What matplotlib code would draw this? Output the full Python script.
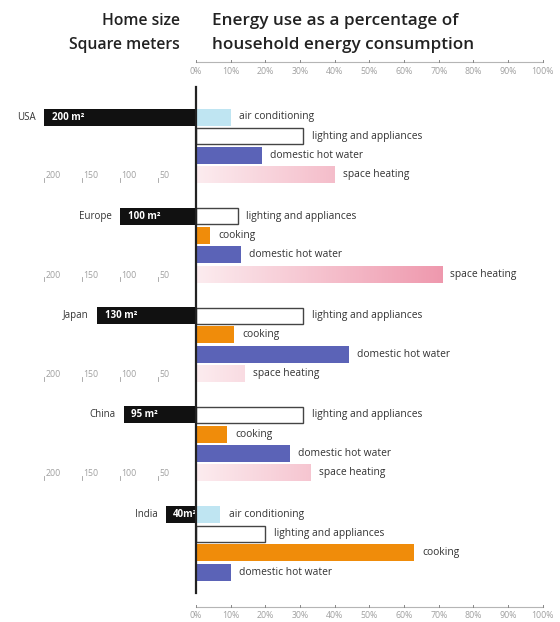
import numpy as np
import matplotlib
matplotlib.use("Agg")
import matplotlib.pyplot as plt
from matplotlib.colors import LinearSegmentedColormap, Normalize

plt.rcParams['font.family'] = ['Open Sans', 'DejaVu Sans']

# ---- data -------------------------------------------------------------
countries = ["USA", "Europe", "Japan", "China", "India"]
home_size_m2 = [200, 100, 130, 95, 40]
home_size_labels = ["200 m²", "100 m²", "130 m²", "95 m²", "40m²"]

usa_uses = ["air conditioning", "lighting and appliances", "domestic hot water", "space heating"]
usa_share = [10, 31, 19, 40]
europe_uses = ["lighting and appliances", "cooking", "domestic hot water", "space heating"]
europe_share = [12, 4, 13, 71]
japan_uses = ["lighting and appliances", "cooking", "domestic hot water", "space heating"]
japan_share = [31, 11, 44, 14]
china_uses = ["lighting and appliances", "cooking", "domestic hot water", "space heating"]
china_share = [31, 9, 27, 33]
india_uses = ["air conditioning", "lighting and appliances", "cooking", "domestic hot water"]
india_share = [7, 20, 63, 10]

pct_ticks = list(range(0, 101, 10))
size_ticks = [200, 150, 100, 50]

groups = [
    (usa_uses, usa_share),
    (europe_uses, europe_share),
    (japan_uses, japan_share),
    (china_uses, china_share),
    (india_uses, india_share),
]

# ---- styling / layout -------------------------------------------------
W, H = 560, 622
PX_PER_PCT = 3.467          # horizontal pixels per percentage point
ZERO_X = 196                # pixel column of the 0 % line
M2_TO_PCT = 0.76 / PX_PER_PCT  # home-size scale, expressed in % units

ROW0, ROW_STEP, GROUP_STEP, BAR_H = 117, 19.3, 99.3, 17

colors = {
    "air conditioning": "#bfe5f2",
    "lighting and appliances": "white",
    "cooking": "#f08c0a",
    "domestic hot water": "#5b63b7",
}
heat_cmap = LinearSegmentedColormap.from_list("heat", ["#fcecef", "#ee94aa"])
heat_norm = Normalize(0, 75)

fig = plt.figure(figsize=(W / 100, H / 100), dpi=100)
ax = fig.add_axes([0, 0, 1, 1])
ax.axis("off")

txt_col = "#333333"
grey = "#a0a0a0"

for g, ((uses, share), name, size, size_lab) in enumerate(
        zip(groups, countries, home_size_m2, home_size_labels)):
    base = ROW0 + g * GROUP_STEP
    ys = [base + i * ROW_STEP for i in range(len(uses))]

    # home size bar to the left of the zero line
    left = -size * M2_TO_PCT
    ax.barh(ys[0], left, height=BAR_H, color="#111111", edgecolor="none", zorder=2)
    ax.text(left + 2.2, ys[0], size_lab, color="white", fontsize=7,
            fontweight="bold", va="center", ha="left", zorder=3)
    ax.text(left - 2.4, ys[0], name, color=txt_col, fontsize=7,
            va="center", ha="right")

    for y, use, v in zip(ys, uses, share):
        if use == "space heating":
            grad = np.linspace(0, v, 256).reshape(1, -1)
            ax.imshow(grad, cmap=heat_cmap, norm=heat_norm, aspect="auto",
                      extent=[0, v, y + BAR_H / 2, y - BAR_H / 2],
                      interpolation="bilinear", zorder=2)
        elif use == "lighting and appliances":
            ax.barh(y, v, height=BAR_H - 1, color="white", edgecolor="#444444",
                    linewidth=1.0, zorder=2)
        else:
            ax.barh(y, v, height=BAR_H, color=colors[use], edgecolor="none", zorder=2)
        ax.text(v + 2.4, y, use, color=txt_col, fontsize=7.4, va="center", ha="left")

    # home-size scale under the first four groups
    if g < 4:
        yl = ys[-1] + 1
        for s in size_ticks:
            xs = -s * M2_TO_PCT
            ax.plot([xs, xs], [yl + 2, yl + 6], color=grey, lw=0.6)
            ax.text(xs + 0.4, yl, str(s), color=grey, fontsize=6.3,
                    va="center", ha="left")

# zero line
ax.plot([0, 0], [87, 593], color="#222222", lw=1.6, zorder=4)

# percentage scales, top and bottom
for y_axis, y_lab in [(62, 71), (607, 616)]:
    ax.plot([0, 100], [y_axis, y_axis], color="#b5b5b5", lw=0.8)
    for t in pct_ticks:
        ax.plot([t, t], [y_axis - 2, y_axis], color="#888888", lw=0.7)
        ax.text(t, y_lab, f"{t}%", color=grey, fontsize=6.3, ha="center", va="center")

ax.set_xlim(-ZERO_X / PX_PER_PCT, (W - ZERO_X) / PX_PER_PCT)
ax.set_ylim(H, 0)

# headings
head = dict(fontweight="semibold", color="#222222", va="center")
fig.text(180 / W, 1 - 21 / H, "Home size", ha="right", fontsize=11.3, **head)
fig.text(180 / W, 1 - 45 / H, "Square meters", ha="right", fontsize=11.3, **head)
fig.text(212 / W, 1 - 21 / H, "Energy use as a percentage of", ha="left", fontsize=12.3, **head)
fig.text(212 / W, 1 - 45 / H, "household energy consumption", ha="left", fontsize=12.3, **head)

fig.savefig("out.png", dpi=100)
